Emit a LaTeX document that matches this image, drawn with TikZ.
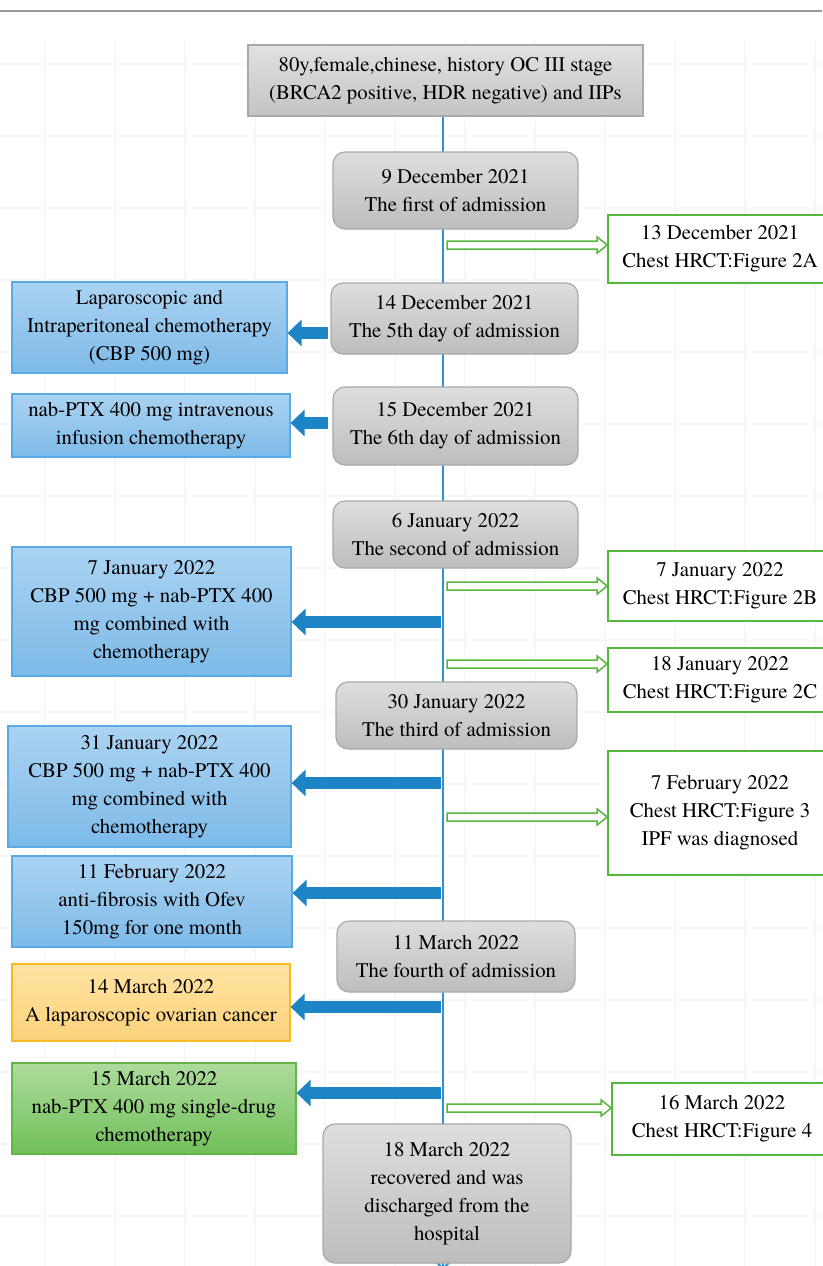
\documentclass[tikz,border=0pt]{standalone}
\usepackage{fontspec}
\setmainfont{texgyretermes}[Extension=.otf, UprightFont=*-regular]
\usetikzlibrary{arrows.meta,calc,backgrounds}
\definecolor{axisblue}{HTML}{2B93DC}
\definecolor{arrowblue}{HTML}{1D85C6}
\definecolor{stageline}{HTML}{A9A9A9}
\definecolor{stagetop}{HTML}{DEDEDE}
\definecolor{stagebot}{HTML}{BDBDBD}
\definecolor{treatline}{HTML}{5AAAE6}
\definecolor{treattop}{HTML}{ABD3F2}
\definecolor{treatbot}{HTML}{7DBAE8}
\definecolor{scanline}{HTML}{55B83A}
\definecolor{surgline}{HTML}{F5BB22}
\definecolor{surgtop}{HTML}{FFE3A3}
\definecolor{surgbot}{HTML}{FCD27A}
\definecolor{monoline}{HTML}{62B548}
\definecolor{monotop}{HTML}{ADDC9C}
\definecolor{monobot}{HTML}{71BF59}
\tikzset{boxsize/.style 2 args={minimum width=#1pt, minimum height=#2pt},
  box/.style={draw, line width=1.2pt, inner sep=0pt, align=center},
  head/.style={box, draw=stageline, top color=stagetop!90, bottom color=stagebot!90},
  stage/.style={box, rounded corners=12pt, draw=stageline,
    top color=stagetop, bottom color=stagebot},
  treat/.style={box, draw=treatline, top color=treattop, bottom color=treatbot},
  surgery/.style={box, draw=surgline, top color=surgtop, bottom color=surgbot},
  mono/.style={box, draw=monoline, top color=monotop, bottom color=monobot},
  scan/.style={box, draw=scanline, line width=1.6pt, fill=white},
  axis/.style={draw=axisblue, line width=2pt, -{Straight Barb[length=6pt,width=12pt]}},
  treat arrow/.style={draw=arrowblue, line width=12pt, -{Triangle[length=14pt,width=26pt]}},
  scan arrow/.style={draw=scanline, line width=1.5pt, fill=white, line join=miter},
  gridline/.style={draw=black!3, line width=2pt}
}
% hollow green arrow from a point on the axis to a scan box
\newcommand\scanarrow[2]{%
  \coordinate (tip) at (#1 -| #2.west);
  \draw[scan arrow] ($(#1)+(0,-4)$) -- ($(tip)+(-10,-4)$) -- ($(tip)+(-10,-8)$)
    -- (tip) -- ($(tip)+(-10,8)$) -- ($(tip)+(-10,4)$) -- ($(#1)+(0,4)$) -- cycle;}

\begin{document}
\begin{tikzpicture}[x=1pt, y=-1pt, font=\fontsize{20.8}{28}\selectfont]
\useasboundingbox (0,0) rectangle (822,1266);

% timeline stages
\node[head, boxsize={395}{71}] (head) at (445.5,80.5)
  {80y,female,chinese, history OC III stage\\(BRCA2 positive, HDR negative) and IIPs};
\node[stage, boxsize={245}{77}] (stage1) at (455.5,190.5) {9 December 2021\\The first of admission};
\node[stage, boxsize={247}{71}] (stage2) at (454.5,318.5) {14 December 2021\\The 5th day of admission};
\node[stage, boxsize={245}{78}] (stage3) at (455.5,426) {15 December 2021\\The 6th day of admission};
\node[stage, boxsize={245}{67}] (stage4) at (455.5,534.5) {6 January 2022\\The second of admission};
\node[stage, boxsize={241}{67}] (stage5) at (456.5,715.5) {30 January 2022\\The third of admission};
\node[stage, boxsize={238}{71}] (stage6) at (456,956.5) {11 March 2022\\The fourth of admission};
\node[stage, boxsize={248}{139}] (stage7) at (447,1193.5)
  {18 March 2022\\recovered and was\\discharged from the\\hospital};

% treatments on the left
\node[treat, boxsize={275}{91}] (treat1) at (149.5,327.5)
  {Laparoscopic and\\Intraperitoneal chemotherapy\\(CBP 500 mg)};
\node[treat, boxsize={278}{63}] (treat2) at (151,425.5)
  {nab-PTX 400 mg intravenous\\infusion chemotherapy};
\node[treat, boxsize={279}{129}] (treat3) at (151.5,611.5)
  {7 January 2022\\CBP 500 mg + nab-PTX 400\\mg combined with\\chemotherapy};
\node[treat, boxsize={283}{121}] (treat4) at (149.5,786.5)
  {31 January 2022\\CBP 500 mg + nab-PTX 400\\mg combined with\\chemotherapy};
\node[treat, boxsize={280}{91}] (treat5) at (152,901.5)
  {11 February 2022\\anti-fibrosis with Ofev\\150mg for one month};
\node[surgery, boxsize={278}{77}] (surg1) at (151,1002.5)
  {14 March 2022\\A laparoscopic ovarian cancer};
\node[mono, boxsize={284}{91}] (mono1) at (154,1108.5)
  {15 March 2022\\nab-PTX 400 mg single-drug\\chemotherapy};

% scans on the right
\node[scan, boxsize={224}{68}] (scan1) at (720,249) {13 December 2021\\Chest HRCT:Figure 2A};
\node[scan, boxsize={224}{70}] (scan2) at (720,586) {7 January 2022\\Chest HRCT:Figure 2B};
\node[scan, boxsize={224}{64}] (scan3) at (720,680) {18 January 2022\\Chest HRCT:Figure 2C};
\node[scan, boxsize={224}{124}] (scan4) at (720,813)
  {7 February 2022\\Chest HRCT:Figure 3\\IPF was diagnosed};
\node[scan, boxsize={220}{72}] (scan5) at (722,1119) {16 March 2022\\Chest HRCT:Figure 4};

\begin{scope}[on background layer]
  \fill[white] (0,0) rectangle (822,1266);
  \foreach \gx in {45,115,...,815}
    \draw[gridline] (\gx,40) -- (\gx,1266);
  \foreach \gy in {64,136,...,1216}
    \draw[gridline] (0,\gy) -- (822,\gy);
  \draw[black!40, line width=1.5pt] (0,11) -- (822,11);
  \coordinate (axisend) at (443,1270);
  \draw[axis] (head.south -| axisend) -- (axisend);
\end{scope}

% thick arrows to the treatments
\coordinate (t1) at (328,333);
\coordinate (t2) at (328,423);
\coordinate (t3) at (441,622);
\coordinate (t4) at (441,783);
\coordinate (t5) at (441,893);
\coordinate (t6) at (441,1007);
\coordinate (t7) at (441,1093);
\draw[treat arrow] (t1) -- (t1 -| treat1.east);
\draw[treat arrow] (t2) -- (t2 -| treat2.east);
\draw[treat arrow] (t3) -- (t3 -| treat3.east);
\draw[treat arrow] (t4) -- (t4 -| treat4.east);
\draw[treat arrow] (t5) -- (t5 -| treat5.east);
\draw[treat arrow] (t6) -- (t6 -| surg1.east);
\draw[treat arrow] (t7) -- (t7 -| mono1.east);

% hollow arrows to the scans
\coordinate (s1) at (447,245);
\coordinate (s2) at (447,586);
\coordinate (s3) at (447,664);
\coordinate (s4) at (447,817);
\coordinate (s5) at (447,1108);
\scanarrow{s1}{scan1}
\scanarrow{s2}{scan2}
\scanarrow{s3}{scan3}
\scanarrow{s4}{scan4}
\scanarrow{s5}{scan5}
\end{tikzpicture}
\end{document}
